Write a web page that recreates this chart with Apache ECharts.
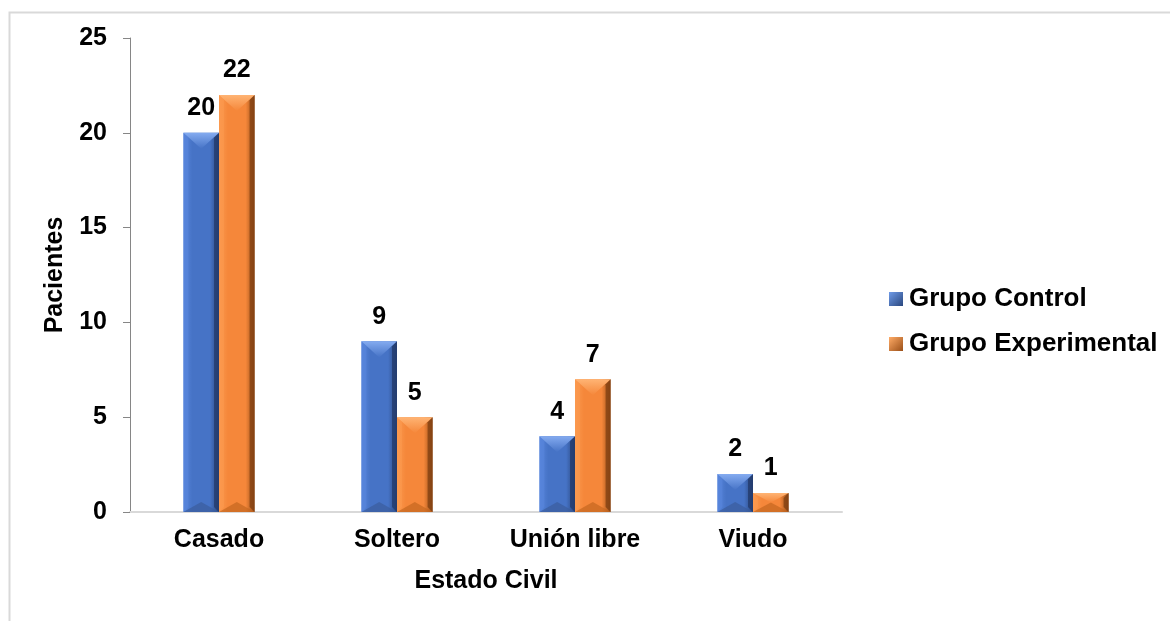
<!DOCTYPE html>
<html>
<head>
<meta charset="utf-8">
<script src="https://cdn.jsdelivr.net/npm/echarts@6/dist/echarts.min.js"></script>
<style>
  html, body { margin: 0; padding: 0; background: #ffffff; }
  #chart { width: 1170px; height: 621px; }
</style>
</head>
<body>
<div id="chart"></div>
<script>
// Estado civil de los pacientes por grupo
var categories = ['Casado', 'Soltero', 'Unión libre', 'Viudo'];
var grupoControl = [20, 9, 4, 2];
var grupoExperimental = [22, 5, 7, 1];
var yTicks = { min: 0, max: 25, interval: 5 };

var FONT = "'Liberation Sans', Arial, Helvetica, sans-serif";

var palettes = {
  blue:   { l: '#5886dc', m: '#4673c6', d: '#2a477e', top: '#84abf0', bot: '#3a5c9c', side: '#23396a' },
  orange: { l: '#fb9a4f', m: '#f5873a', d: '#9a4f18', top: '#ffb474', bot: '#c4661f', side: '#7e3f12' }
};

// Beveled bar drawn from the category/value coordinates of each datum
function bevelRenderer(side, pal) {
  return function (params, api) {
    var cat = api.value(0), val = api.value(1);
    var base = api.coord([cat, 0]);
    var top = api.coord([cat, val]);
    var band = api.size([1, 0])[0];
    var w = band * 0.2;
    var x0 = side < 0 ? base[0] - w : base[0];
    var x1 = x0 + w;
    var xc = (x0 + x1) / 2;
    var y0 = top[1], y1 = base[1];
    var h = y1 - y0;
    var s = Math.min(5, w / 2);
    var td = Math.min(w * 0.45, h / 2);
    var bd = Math.min(10, h / 2);
    var children = [
      { type: 'rect', shape: { x: x0, y: y0, width: w, height: h },
        style: { fill: new echarts.graphic.LinearGradient(0, 0, 1, 0, [
          { offset: 0, color: pal.l }, { offset: 0.25, color: pal.m },
          { offset: 0.75, color: pal.m }, { offset: 1, color: pal.d }]) } },
      { type: 'polygon', shape: { points: [[x1, y0], [x1 - s, y0 + s], [x1 - s, y1 - s], [x1, y1]] },
        style: { fill: pal.side, opacity: 0.75 } },
      { type: 'polygon', shape: { points: [[x0, y0], [x0 + s, y0 + s], [x0 + s, y1 - s], [x0, y1]] },
        style: { fill: pal.l, opacity: 0.6 } },
      { type: 'polygon', shape: { points: [[x0, y1], [x1, y1], [xc, y1 - bd]] },
        style: { fill: pal.bot, opacity: 0.7 } },
      { type: 'polygon', shape: { points: [[x0, y0], [x1, y0], [xc, y0 + td]] },
        style: { fill: new echarts.graphic.LinearGradient(0, 0, 0, 1, [
          { offset: 0, color: pal.top }, { offset: 1, color: pal.m }]) } },
      { type: 'text', x: xc, y: y0 - 12,
        style: { text: String(val), align: 'center', verticalAlign: 'bottom',
                 font: 'bold 25px ' + FONT, fill: '#000000' } }
    ];
    return { type: 'group', children: children };
  };
}

function toData(values) {
  return values.map(function (v, i) { return [i, v]; });
}

var chart = echarts.init(document.getElementById('chart'), null, { renderer: 'canvas' });

chart.setOption({
  backgroundColor: '#ffffff',
  animation: false,
  graphic: [{
    type: 'rect', left: 7, top: 10, z: -1,
    shape: { x: 0, y: 0, width: 1200, height: 700 },
    style: { fill: 'none', stroke: '#d9d9d9', lineWidth: 2 }
  }],
  grid: { left: 130, right: 328, top: 38, bottom: 109, containLabel: false },
  legend: {
    orient: 'vertical',
    left: 884,
    top: 281,
    itemWidth: 14,
    itemHeight: 14,
    itemGap: 19,
    icon: 'rect',
    textStyle: { fontFamily: FONT, fontWeight: 'bold', fontSize: 26, color: '#000', lineHeight: 26, padding: [0, 0, 0, 1] },
    data: [
      { name: 'Grupo Control', itemStyle: { color: new echarts.graphic.LinearGradient(0, 0, 1, 1, [
        { offset: 0, color: '#6f9be8' }, { offset: 1, color: '#2a477e' }]) } },
      { name: 'Grupo Experimental', itemStyle: { color: new echarts.graphic.LinearGradient(0, 0, 1, 1, [
        { offset: 0, color: '#ffab66' }, { offset: 1, color: '#9a4f18' }]) } }
    ]
  },
  xAxis: {
    type: 'category',
    data: categories,
    name: 'Estado Civil',
    nameLocation: 'middle',
    nameGap: 57,
    nameTextStyle: { fontFamily: FONT, fontWeight: 'bold', fontSize: 25, color: '#000' },
    axisLine: { lineStyle: { color: '#d9d9d9', width: 2 } },
    axisTick: { show: false },
    axisLabel: { fontFamily: FONT, fontWeight: 'bold', fontSize: 25, color: '#000', margin: 16 },
    splitLine: { show: false }
  },
  yAxis: {
    type: 'value',
    min: yTicks.min,
    max: yTicks.max,
    interval: yTicks.interval,
    name: 'Pacientes',
    nameLocation: 'middle',
    nameGap: 62,
    nameTextStyle: { fontFamily: FONT, fontWeight: 'bold', fontSize: 25, color: '#000' },
    axisLine: { show: true, lineStyle: { color: '#868686', width: 1 } },
    axisTick: { show: true, length: 7, lineStyle: { color: '#868686' } },
    axisLabel: { fontFamily: FONT, fontWeight: 'bold', fontSize: 25, color: '#000', margin: 23 },
    splitLine: { show: false }
  },
  series: [
    {
      name: 'Grupo Control',
      type: 'custom',
      itemStyle: { color: palettes.blue.m },
      renderItem: bevelRenderer(-1, palettes.blue),
      encode: { x: 0, y: 1 },
      data: toData(grupoControl)
    },
    {
      name: 'Grupo Experimental',
      type: 'custom',
      itemStyle: { color: palettes.orange.m },
      renderItem: bevelRenderer(1, palettes.orange),
      encode: { x: 0, y: 1 },
      data: toData(grupoExperimental)
    }
  ]
});
</script>
</body>
</html>
